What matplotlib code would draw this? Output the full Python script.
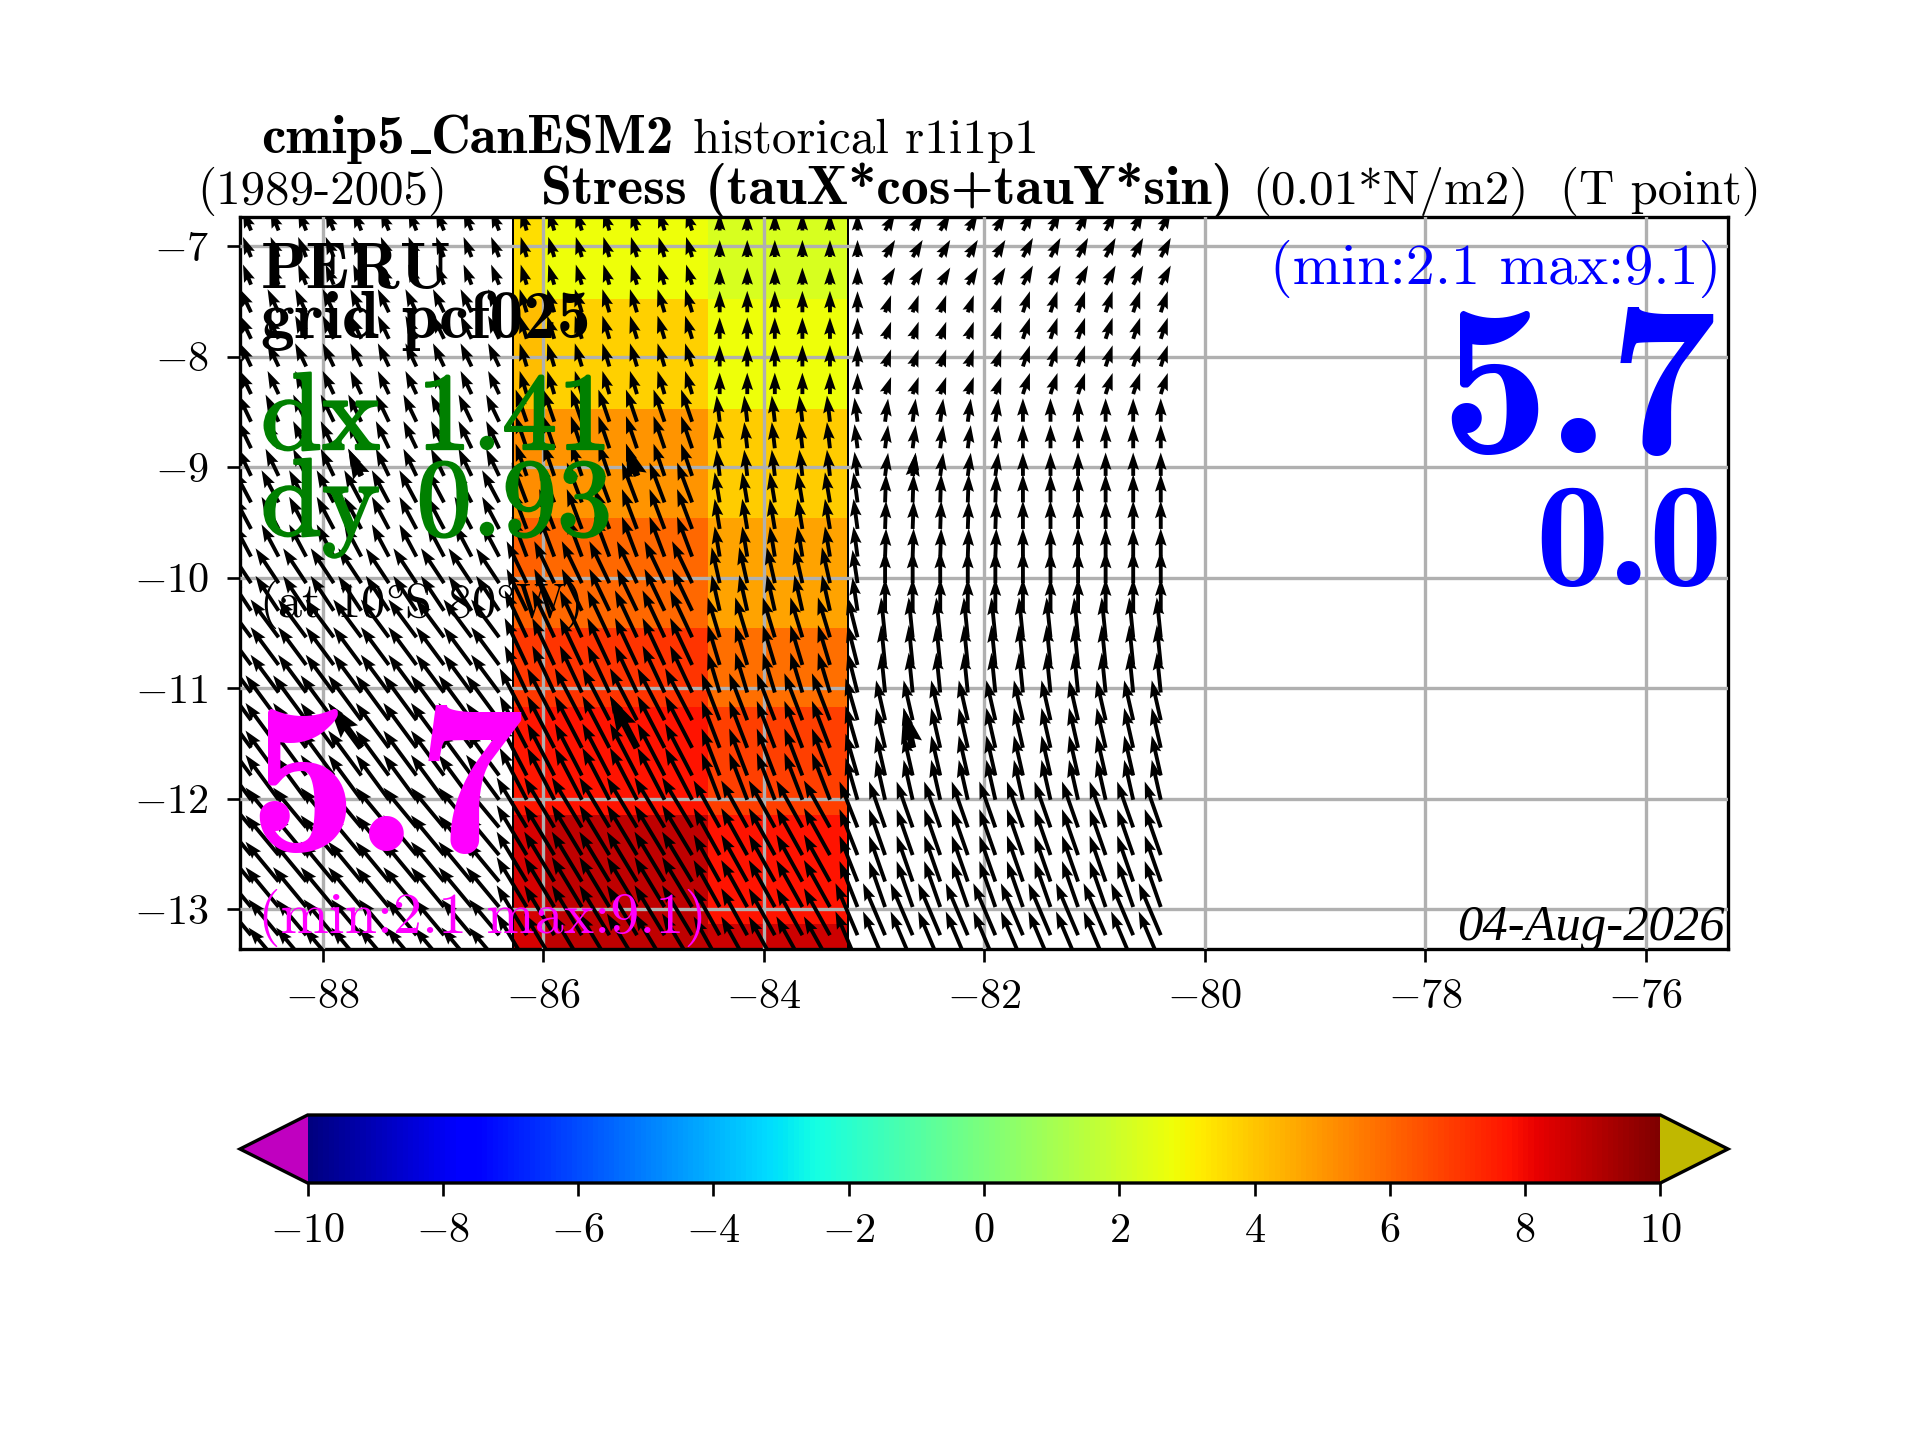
import numpy as np
import matplotlib
matplotlib.use('Agg')
import matplotlib.pyplot as plt
import matplotlib.patheffects as pe

plt.rcParams['font.family'] = ['cmr10', 'DejaVu Serif']
plt.rcParams['mathtext.fontset'] = 'cm'
plt.rcParams['axes.formatter.use_mathtext'] = True
plt.rcParams['axes.unicode_minus'] = False

# colour field: cell edges and values
lon_edges = [-86.27, -86.0, -84.51, -83.24]
lat_edges = [-6.5, -7.48, -8.475, -9.46, -10.46, -11.17, -12.15, -13.13, -13.5]
stress = [
    [3.5, 2.8, 2.2],
    [4.2, 3.8, 2.8],
    [5.2, 5.0, 3.9],
    [6.1, 6.0, 4.7],
    [7.0, 7.1, 5.8],
    [7.7, 7.8, 6.8],
    [8.5, 8.9, 7.8],
    [8.5, 8.9, 8.6],
]

# arrow tails
arrow_lon = [-88.65, -88.4, -88.15, -87.9, -87.65, -87.4, -87.15, -86.9, -86.65,
             -86.4, -86.15, -85.9, -85.65, -85.4, -85.15, -84.9, -84.65, -84.4,
             -84.15, -83.9, -83.65, -83.4, -83.15, -82.9, -82.65, -82.4, -82.15,
             -81.9, -81.65, -81.4, -81.15, -80.9, -80.65, -80.4]
arrow_lat = [-6.86, -7.10, -7.35, -7.60, -7.84, -8.09, -8.34, -8.59, -8.83, -9.08,
             -9.32, -9.56, -9.81, -10.05, -10.30, -10.54, -10.79, -11.04, -11.29,
             -11.54, -11.79, -12.01, -12.26, -12.51, -12.75, -12.98, -13.235, -13.49]

# arrow blocks, east and north components
block_lon = [-88.8, -86.27, -84.51, -83.24, -83.0, -81.8, -80.0]
block_lat = [-6.5, -7.48, -8.475, -9.2, -10.0, -10.46, -11.17, -12.15, -13.13, -13.6]
tau_u = [
    [-2.4, -1.8, 0.0, 0.0, 3.0, 3.0],
    [-3.3, -2.1, 0.0, 0.0, 1.8, 2.1],
    [-3.9, -3.3, -0.9, -0.9, 0.9, 0.0],
    [-5.1, -4.5, -1.5, -1.2, 0.3, 0.0],
    [-6.9, -6.0, -2.4, -1.5, 0.0, 0.0],
    [-8.4, -6.6, -3.6, -3.0, -1.2, -1.2],
    [-9.9, -8.1, -5.4, -3.6, -2.7, -2.7],
    [-9.9, -9.0, -7.8, -5.4, -4.8, -4.8],
    [-9.0, -9.0, -7.8, -6.6, -6.6, -6.6],
]
tau_v = [
    [6.0, 6.0, 5.1, 5.1, 5.1, 5.7],
    [6.9, 6.9, 6.4, 6.3, 5.1, 6.3],
    [8.1, 9.6, 7.8, 7.2, 6.9, 7.0],
    [9.6, 11.9, 9.0, 9.0, 8.4, 8.4],
    [10.4, 12.5, 10.7, 9.9, 9.6, 9.6],
    [11.3, 14.0, 11.9, 11.9, 11.9, 11.9],
    [13.4, 15.5, 14.0, 12.5, 11.9, 11.9],
    [11.9, 14.9, 14.0, 13.7, 13.7, 13.7],
    [10.7, 14.9, 14.0, 15.5, 15.5, 15.5],
]

# the bolder arrows
bold_lon = [-87.65, -85.15, -82.65]
bold_lat = [-9.08, -11.54]

x_ticks = [-88, -86, -84, -82, -80, -78, -76]
y_ticks = [-7, -8, -9, -10, -11, -12, -13]
cbar_ticks = [-10, -8, -6, -4, -2, 0, 2, 4, 6, 8, 10]


def block_values(table, lons, lats):
    # look up each arrow in its block
    out = np.zeros((len(lats), len(lons)))
    for j, la in enumerate(lats):
        r = sum(la < e for e in block_lat) - 1
        for i, lo in enumerate(lons):
            c = sum(lo > e for e in block_lon) - 1
            out[j, i] = table[r][c]
    return out


plt.rcParams['axes.linewidth'] = 1.0
plt.rcParams['xtick.major.size'] = 4
plt.rcParams['ytick.major.size'] = 4
plt.rcParams['xtick.major.pad'] = 5
plt.rcParams['ytick.major.pad'] = 5.3
plt.rcParams['xtick.labelsize'] = 12.7
plt.rcParams['ytick.labelsize'] = 12.7

fig = plt.figure(figsize=(8, 6), dpi=240)
ax = fig.add_axes([240 / 1920, 1 - 949 / 1440, 1488 / 1920, 732 / 1440])

cmap = plt.get_cmap('jet').copy()
cmap.set_under('#c000c0')
cmap.set_over('#c0b800')
lat_asc = np.array(lat_edges)[::-1]
pc = ax.pcolormesh(lon_edges, lat_asc, np.array(stress)[::-1], cmap=cmap, vmin=-10, vmax=10)

for lo in [lon_edges[0], lon_edges[-1]]:
    ax.plot([lo, lo], [-13.36, -6.74], color='k', lw=0.6, zorder=1.5)

u = block_values(tau_u, arrow_lon, arrow_lat)
v = block_values(tau_v, arrow_lon, arrow_lat)
ax.quiver(arrow_lon, arrow_lat, u, v, angles='xy', scale_units='xy', scale=33,
          width=0.0026, headwidth=3, headlength=4.5, headaxislength=4, zorder=3)

bu = block_values(tau_u, bold_lon, bold_lat)
bv = block_values(tau_v, bold_lon, bold_lat)
ax.quiver(*np.meshgrid(bold_lon, bold_lat), bu, bv, angles='xy', scale_units='xy',
          scale=33, width=0.0048, zorder=3)

ax.set_axisbelow(False)
ax.grid(True, color='#b0b0b0', lw=1.0, zorder=4)
for ln in ax.get_xgridlines() + ax.get_ygridlines():
    ln.set_zorder(4)

ax.set_xlim(-88.75, -75.256)
ax.set_ylim(-13.36, -6.738)
ax.set_xticks(x_ticks)
ax.set_yticks(y_ticks)


def px_text(x, y, s, **kw):
    # x, y in picture pixels, y is the baseline
    fig.text(x / 1920, 1 - y / 1440, s, zorder=6, **kw)


thick = [pe.withStroke(linewidth=0.7, foreground='#008000')]

px_text(261, 153, 'cmip5', family='cmb10', fontsize=16.5)
px_text(411, 145, '_', family='DejaVu Serif', fontsize=12, weight='bold')
px_text(431, 153, 'CanESM2', family='cmb10', fontsize=16.5)
px_text(693, 153, 'historical r1i1p1', fontsize=14.7)
px_text(197, 204, '(1989-2005)', fontsize=14.7)
px_text(541, 204, 'Stress (tauX*cos+tauY*sin)', family='cmb10', fontsize=16.7)
px_text(1252, 204, '(0.01*N/m2)', fontsize=14.7)
px_text(1560, 204, '(T point)', fontsize=14.7)

px_text(261, 288, 'PERU', family='cmb10', fontsize=20)
px_text(261, 338, 'grid pcf025', family='cmb10', fontsize=20.2)
px_text(261, 449, 'dx 1.41', color='#008000', fontsize=33, path_effects=thick)
px_text(261, 535, 'dy 0.93', color='#008000', fontsize=33, path_effects=thick)
px_text(259, 617, '(at 10$\\degree$S 80$\\degree$W)', fontsize=14.5)
px_text(248, 851, '5.7', color='#ff00ff', family='cmb10', fontsize=65)
px_text(258, 933, '(min:2.1 max:9.1)', color='#ff00ff', fontsize=17.4)

px_text(1721, 284, '(min:2.1 max:9.1)', color='#0000ff', fontsize=17.5, ha='right')
px_text(1717, 453, '5.7', color='#0000ff', family='cmb10', fontsize=65, ha='right')
px_text(1723, 585, '0.0', color='#0000ff', family='cmb10', fontsize=44, ha='right')
px_text(1725, 940, '04-Aug-2026', family='Liberation Serif', style='italic', fontsize=15.2, ha='right')

cax = fig.add_axes([240 / 1920, 1 - 1183 / 1440, 1488 / 1920, 68 / 1440])
cb = fig.colorbar(pc, cax=cax, orientation='horizontal', extend='both')
cb.set_ticks(cbar_ticks)
cb.outline.set_linewidth(1.0)

fig.savefig('out.png', dpi=240)
